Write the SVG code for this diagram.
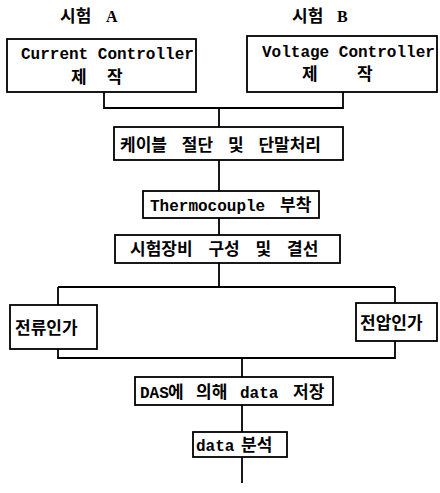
<svg xmlns="http://www.w3.org/2000/svg" width="440" height="493" viewBox="0 0 440 493">
<style>
.box{fill:#fff;stroke:#000;stroke-width:1.8}
.ln{fill:none;stroke:#000;stroke-width:1.8}
text{font-family:"Liberation Mono","Noto Sans CJK KR",monospace;font-size:16px;fill:#000;font-weight:bold}
.k{font-family:"Noto Sans CJK KR","Liberation Sans",sans-serif;font-weight:bold;font-size:17px}
.s{font-family:"Liberation Serif","Noto Sans CJK KR",serif;font-weight:bold;font-size:16px}
</style>
<rect width="440" height="493" fill="#fff"/>
<g id="titleA"><text class="k" x="60" y="22">시험</text><text class="s" x="106" y="22">A</text></g>
<g id="titleB"><text class="k" x="292" y="22">시험</text><text class="s" x="337" y="22">B</text></g>
<g id="connectors">
<path class="ln" d="M104 92V108H343V92M219 108V127"/>
<path class="ln" d="M219 160V191M219 218V235M219 263V287M58 287H395M58 287V305M395 287V303"/>
<path class="ln" d="M58 349V358H395V341M242 358V377M242 405V432M242 457V483"/>
</g>
<g id="nodeA"><rect class="box" x="7" y="39" width="189" height="53"/>
<text x="21" y="59">Current Controller</text>
<text class="k" x="71" y="83" font-size="16">제</text><text class="k" x="107" y="83" font-size="16">작</text></g>
<g id="nodeB"><rect class="box" x="247" y="36" width="190" height="56"/>
<text x="262" y="57">Voltage Controller</text>
<text class="k" x="302" y="80" font-size="16">제</text><text class="k" x="357" y="80" font-size="16">작</text></g>
<g id="node1"><rect class="box" x="114" y="127" width="229" height="33"/>
<text class="k" x="120" y="151" word-spacing="11">케이블 절단 및 단말처리</text></g>
<g id="node2"><rect class="box" x="143" y="191" width="176" height="27"/>
<text x="150" y="211">Thermocouple</text><text class="k" x="280" y="211" font-size="16">부착</text></g>
<g id="node3"><rect class="box" x="115" y="235" width="225" height="28"/>
<text class="k" x="130" y="255" word-spacing="12">시험장비 구성 및 결선</text></g>
<g id="nodeL"><rect class="box" x="10" y="305" width="87" height="44"/>
<text class="k" x="15" y="334" font-size="19">전류인가</text></g>
<g id="nodeR"><rect class="box" x="356" y="303" width="81" height="38"/>
<text class="k" x="360" y="329" font-size="19">전압인가</text></g>
<g id="node4"><rect class="box" x="135" y="377" width="198" height="28"/>
<text x="140" y="398">DAS</text><text class="k" x="168" y="398" font-size="16">에</text><text class="k" x="196" y="398" font-size="16">의해</text><text x="240" y="398">data</text><text class="k" x="293" y="398" font-size="16">저장</text></g>
<g id="node5"><rect class="box" x="193" y="432" width="94" height="25"/>
<text x="196" y="451">data</text><text class="k" x="241" y="451" font-size="16">분석</text></g>
</svg>
